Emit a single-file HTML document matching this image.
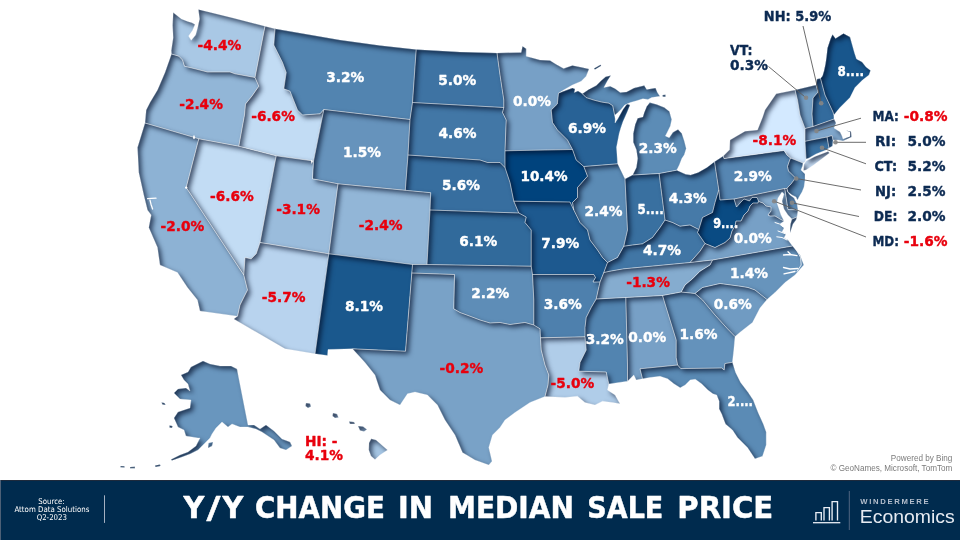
<!DOCTYPE html>
<html lang="en">
<head>
<meta charset="utf-8">
<title>Y/Y Change in Median Sale Price</title>
<style>
html,body{margin:0;padding:0;background:#fff;}
body{width:960px;height:540px;overflow:hidden;position:relative;font-family:"DejaVu Sans","Liberation Sans",sans-serif;}
svg{position:absolute;left:0;top:0;display:block;}
.st{stroke:#fff;stroke-width:.6;stroke-opacity:.5;stroke-linejoin:round;}
.lab text{stroke-width:.4px;stroke-linejoin:round;paint-order:stroke;font-family:"DejaVu Sans","Liberation Sans",sans-serif;font-weight:bold;font-size:14.4px;}
.side text{stroke:#0c2a52;stroke-width:.4px;stroke-linejoin:round;paint-order:stroke;font-family:"DejaVu Sans","Liberation Sans",sans-serif;font-weight:bold;font-size:14.4px;}
.lead line{stroke:#5c5c5c;stroke-width:1;stroke-opacity:.9;}
.lead circle{fill:#858585;fill-opacity:.92;}
.src text{font-family:"DejaVu Sans Condensed","DejaVu Sans","Liberation Sans",sans-serif;font-size:7.9px;}
.ttl{stroke:#fff;stroke-width:.5px;stroke-linejoin:round;paint-order:stroke;font-family:"DejaVu Sans","Liberation Sans",sans-serif;font-weight:bold;font-size:30.8px;}
.wm{font-family:"Liberation Sans",sans-serif;font-size:7.7px;font-weight:bold;}
.eco{font-family:"Liberation Sans",sans-serif;font-size:18.7px;}
.bing text{font-family:"Liberation Sans",sans-serif;font-size:8.15px;}
</style>
</head>
<body>
<svg width="960" height="480" viewBox="0 0 960 480">
<defs>
<filter id="is" filterUnits="userSpaceOnUse" x="0" y="0" width="960" height="480" color-interpolation-filters="sRGB">
<feComponentTransfer in="SourceAlpha" result="inv"><feFuncA type="table" tableValues="1 0"/></feComponentTransfer>
<feGaussianBlur in="inv" stdDeviation="2.8" result="blur"/>
<feOffset in="blur" dx="3" dy="3" result="off"/>
<feFlood flood-color="#000c26" flood-opacity="0.68" result="col"/>
<feComposite in="col" in2="off" operator="in" result="sh"/>
<feComposite in="sh" in2="SourceAlpha" operator="in" result="ish"/>
<feMerge><feMergeNode in="SourceGraphic"/><feMergeNode in="ish"/></feMerge>
</filter>
</defs>
<g class="map">
<path d="M173.2,12.6L172.6,25.2L173.2,37.8L171.3,50.4L171.5,54L178.8,56.2L182.5,60L184.5,66.2L195,68.8L207.5,72L230,72L235,73.8L255,77.5L265,26.2L232,17.7L198.4,9.4L199.6,19L197.8,27L195.6,35L191.2,40.3L188.6,36L192.5,30.5L195,24.5L192,22.8L187.7,21.4L181.4,18.9Z" fill="#a9c8e5" filter="url(#is)"/>
<path d="M171.5,54L165,72.5L157.5,90L150,102.5L146.2,110L145,123L198.8,138.8L238.8,146.2L244.5,115L245.5,104L252,96L258.8,86.2L255,77.5L235,73.8L230,72L207.5,72L195,68.8L184.5,66.2L182.5,60L178.8,56.2Z" fill="#92b6d7" filter="url(#is)"/>
<path d="M145,123L137.5,147.5L138.8,172.5L143.8,195L147.5,210L151.2,215L148.8,227.5L157.5,247.5L160,265L177.5,272.5L187.5,287.5L197.5,300L200,311L237.5,316.2L240,305L247.5,290L243.8,275L186.2,187.5L198.8,138.8Z" fill="#8db2d4" filter="url(#is)"/>
<path d="M238.8,146.2L198.8,138.8L186.2,187.5L243.8,275L245,257.5L251.2,258.8L256.2,253.8L260,242.5L276.2,155.8Z" fill="#c2dcf4" filter="url(#is)"/>
<path d="M265,26.2L275,28.8L273.8,45L282.5,62.5L286.2,72.5L283.8,88.8L290,91.2L297.5,110L302.5,115L320,113.8L323.8,109.5L313.5,161L276.2,155.8L238.8,146.2L244.5,115L245.5,104L252,96L258.8,86.2L255,77.5Z" fill="#c2dcf4" filter="url(#is)"/>
<path d="M275,28.8L340,40L380,45.5L416.2,49.5L412.5,102.5L410,119.5L323.8,109.5L320,113.8L302.5,115L297.5,110L290,91.2L283.8,88.8L286.2,72.5L282.5,62.5L273.8,45Z" fill="#5284b0" filter="url(#is)"/>
<path d="M323.8,109.5L410,119.5L408,155L405.3,190.3L338,183.8L312.5,178.8L313.5,161Z" fill="#6693bc" filter="url(#is)"/>
<path d="M276.2,155.8L313.5,161L312.5,178.8L338,183.8L328.8,253.8L260,242.5Z" fill="#9abcdc" filter="url(#is)"/>
<path d="M260,242.5L328.8,253.8L315,353.8L285,348.8L233.8,319L237.5,316.2L240,305L247.5,290L243.8,275L245,257.5L251.2,258.8L256.2,253.8Z" fill="#b8d3ee" filter="url(#is)"/>
<path d="M338,183.8L405.3,190.3L430.7,192.7L430,210L427,264.5L412.5,264.5L328.8,253.8Z" fill="#92b6d7" filter="url(#is)"/>
<path d="M328.8,253.8L412.5,264.5L411.8,273L405.5,351.2L352.5,348.8L328,349.5L327.5,355.5L315,353.8Z" fill="#1a588d" filter="url(#is)"/>
<path d="M416.2,49.5L460,52L497,53L500,75L503.8,100L503.8,107.5L412.5,102.5Z" fill="#3e73a3" filter="url(#is)"/>
<path d="M412.5,102.5L503.8,107.5L502.5,112.5L506.2,120L505,150.8L505,167.5L500,162.5L487.5,162.5L480,160L408,155L410,119.5Z" fill="#4277a6" filter="url(#is)"/>
<path d="M408,155L480,160L487.5,162.5L500,162.5L505,167.5L510,182.5L513.8,201.2L518.8,213L430,210L430.7,192.7L405.3,190.3Z" fill="#376e9f" filter="url(#is)"/>
<path d="M430,210L518.8,213L526.2,217L525,222.5L531.2,230L531.2,266.2L427,264.5Z" fill="#316a9b" filter="url(#is)"/>
<path d="M427,264.5L531.2,266.2L532.5,274.5L533.8,300L533.8,325L525,322.5L510,324.5L500,322.5L490,323L480,320L470,316.2L460,312.5L453.8,308.8L454.5,274.5L411.8,273L412.5,264.5Z" fill="#5e8db7" filter="url(#is)"/>
<path d="M411.8,273L454.5,274.5L453.8,308.8L460,312.5L470,316.2L480,320L490,323L500,322.5L510,324.5L525,322.5L533.8,325L540,328.8L540.5,337.8L541.2,350L545,365L548.8,375L548,385L545,396.5L530,402.5L515,412.5L505,420L500,427.5L492.5,435L488.8,447.5L492,461.2L488.8,465L475,460L462.5,452.5L455,435L445,420L437.5,405L427.5,395L415,392L407.5,393.8L400,405L390,400L380,390L375,375L365,362.5L352.5,348.8L405.5,351.2Z" fill="#79a2c7" filter="url(#is)"/>
<path d="M497,53L521.2,52.5L522.5,46.2L526.2,48.8L526.2,56.2L540,60L550,60.5L556,64.2L563.6,68.6L572.4,65.4L581.2,67.3L589,69L586.2,76.2L581.2,81.2L572.4,85L563.6,90L558.5,93.2L557.3,104L551.2,110L552.5,122.5L557.5,130L567.5,140L572.5,149.5L505,150.8L506.2,120L502.5,112.5L503.8,107.5L503.8,100L500,75Z" fill="#77a0c6" filter="url(#is)"/>
<path d="M505,150.8L572.5,149.5L576.2,160L583.8,166.5L587.5,176.2L577.5,187.5L577.5,197.5L572.5,202.5L573.8,210L570,202L513.8,201.2L510,182.5L505,167.5Z" fill="#00437d" filter="url(#is)"/>
<path d="M513.8,201.2L570,202L573.8,210L580,222.5L587.5,230L590,240L597.5,250L602.5,257.5L607.5,262.5L603.8,272.5L600,282L593,282L595.5,277.5L593.8,274.5L532.5,274.5L531.2,266.2L531.2,230L525,222.5L526.2,217L518.8,213Z" fill="#1d598f" filter="url(#is)"/>
<path d="M532.5,274.5L593.8,274.5L595.5,277.5L593,282L600,282L596.2,299L591.2,307.5L586.2,317.5L585,327.5L585,336.8L540.5,337.8L540,328.8L533.8,325L533.8,300Z" fill="#4e80ad" filter="url(#is)"/>
<path d="M540.5,337.8L585,336.8L586.2,350L580,362.5L578.8,371.2L606.2,372L608.8,384L607.5,390L615,395L620,403.8L612.5,402.5L602.5,401.2L595,405L585,402.5L577.5,396.2L565,397.5L545,396.5L548,385L548.8,375L545,365L541.2,350Z" fill="#b0cde9" filter="url(#is)"/>
<path d="M596.2,299L625.8,297.5L627.5,365L627.5,381.2L608.8,384L606.2,372L578.8,371.2L580,362.5L586.2,350L585,336.8L585,327.5L586.2,317.5L591.2,307.5Z" fill="#5284b0" filter="url(#is)"/>
<path d="M625.8,297.5L662.5,295.5L676.2,340L676.2,357.5L677.6,365L640,368.8L642.5,378.8L636.2,380L633.8,375L627.5,381.2L627.5,365Z" fill="#77a0c6" filter="url(#is)"/>
<path d="M662.5,295.5L681.2,292L695,293.5L702.5,300L715,315L727.5,328.8L735,336.5L733.8,350L732.4,362.3L724.9,363.6L724.2,369.9L721.7,368L680.8,368.6L677.6,365L676.2,357.5L676.2,340Z" fill="#6492bb" filter="url(#is)"/>
<path d="M732.4,362.3L735.6,372.4L740.6,382.4L748.2,392.5L753.2,400.1L758.2,412.7L763.3,424L766.2,432L766.2,445L762.5,456.2L755,458.8L747.5,447.5L737.5,437.5L732.5,430L725.5,424L721.7,413.9L719.2,408.9L719.2,401.3L716.7,395L712.9,393.8L707.9,390L701.6,383.7L695.3,379.3L690.2,379.9L685.2,385L680.2,387.8L673.9,383.7L667.6,378.7L660,376.3L650,377.5L642.5,378.8L640,368.8L677.6,365L680.8,368.6L721.7,368L724.2,369.9L724.9,363.6Z" fill="#5b8bb5" filter="url(#is)"/>
<path d="M695,293.5L702.5,287.5L720,283.5L740,286.2L748,287.5L755,290L767,299.5L760,308L752.5,322.5L741,331.5L735,336.5L727.5,328.8L715,315L702.5,300Z" fill="#709bc2" filter="url(#is)"/>
<path d="M712.5,260L792.5,246L800,255L803.8,265L795,275L785,282.5L775,292.5L767,299.5L755,290L748,287.5L740,286.2L720,283.5L702.5,287.5L695,293.5L681.2,292L685,285L692.5,278.8L700,271.2L710,265Z" fill="#6794bc" filter="url(#is)"/>
<path d="M603.8,272.5L610,271.2L623.8,268.8L690,262.5L712.5,260L710,265L700,271.2L692.5,278.8L685,285L681.2,292L662.5,295.5L625.8,297.5L596.2,299L600,282Z" fill="#85accf" filter="url(#is)"/>
<path d="M607.5,262.5L617.5,257.5L623.8,246.2L632.5,245L642.5,243.8L652.5,237.5L660,227.5L665,220L672.5,222.5L680,226.2L690,225L698.8,229.5L697.5,232.5L705,243.5L700,251.2L690,262.5L623.8,268.8L610,271.2L603.8,272.5Z" fill="#4176a5" filter="url(#is)"/>
<path d="M583.8,166.5L617.6,163.8L621.3,171.2L625,179L627.5,230L623.8,246.2L617.5,257.5L607.5,262.5L602.5,257.5L597.5,250L590,240L587.5,230L580,222.5L573.8,210L572.5,202.5L577.5,197.5L577.5,187.5L587.5,176.2Z" fill="#5b8bb5" filter="url(#is)"/>
<path d="M625,179L632.7,175L659.1,173.5L665,220L660,227.5L652.5,237.5L642.5,243.8L632.5,245L623.8,246.2L627.5,230Z" fill="#3970a0" filter="url(#is)"/>
<path d="M659.1,173.5L676.7,170.2L685.6,174.3L690.6,175L698.2,172.5L707,167.4L714.5,161.7L718.8,190L715,202.5L712.5,212.5L702.5,217.5L698.8,229.5L690,225L680,226.2L672.5,222.5L665,220Z" fill="#467aa8" filter="url(#is)"/>
<path d="M632.7,175L636.4,167.4L637.7,158.6L636.4,149.8L633.3,142.2L633.3,133.4L635.2,124.6L637.7,118.3L642.9,117L644.2,112.7L646.7,106.4L649.8,102.6L656.8,104.5L664.3,107.6L669.4,111.4L671.7,119.6L670.4,125.9L667.3,132.2L665.4,135.9L669.2,137.8L673,132.2L678,129.6L681.8,133.4L684.3,141L686.2,148.5L684.3,154.8L681.8,158.6L679.3,164.9L676.7,170.2L659.1,173.5ZM582.4,93.8L588.7,89.4L596.3,85.6L601.3,80.6L605.7,76.8L610.8,75.5L607.6,80.6L603.9,87.5L610.2,86.2L615.2,88.7L620.2,92.5L626.5,91.9L634.1,88.1L644.2,85.6L646.7,89.4L655.5,88.1L657.4,92.5L659.9,96.3L651.7,97.6L648,99.4L642.9,98.8L636.6,100.7L630.3,102.6L624.6,105.1L621.5,108.9L617.7,112.7L614.6,115.2L613.9,111.4L612.7,105.7L608.9,103.2L601.3,102L593.8,100.1L586.2,97.6ZM594,68.5L600.5,64.8L601.2,65.8L595,69.6ZM662.5,95L665.5,94.8L665.5,96.8L662.8,96.8Z" fill="#5c8cb6" filter="url(#is)"/>
<path d="M558.5,93.2L563.6,91.3L572.4,88.1L575,89L574.3,92.5L578,91L582.4,93.8L586.2,97.6L593.8,100.1L601.3,102L608.9,103.2L612.7,105.7L613.9,111.4L614.6,115.2L615.2,119L615,123L618,118.5L623,109.5L627,104L630,105L627,112.5L623,121.5L620.8,128L619.2,133.4L616.5,147.3L617.6,163.8L583.8,166.5L576.2,160L572.5,149.5L567.5,140L557.5,130L552.5,122.5L551.2,110L557.3,104Z" fill="#286296" filter="url(#is)"/>
<path d="M714.5,161.7L723.3,156.1L724,158.6L784,150.5L787,155L790.5,158L789,162L787.5,166.5L788.5,171L792,174.5L795,177.5L794,180L791,184L788,187L787,188.5L784.5,188.5L734,199L720,200L718.8,190Z" fill="#5686b2" filter="url(#is)"/>
<path d="M723.3,156.1L729.6,149.8L730,140L745,131.2L757.5,130L762.5,117.5L765,110L776.2,93.8L795,90L797.5,100L800,115L805,128.5L805,141.3L806,159L805,162L803,163L790.5,158L787,155L784,150.5L724,158.6ZM804,164.5L806,161L815,156.5L828,151.5L829.5,153L821,159.5L813,165.5L806,170L803.5,170.5Z" fill="#d3e9ff" filter="url(#is)"/>
<path d="M795,90L816,85L818,92L813,98L812,114L813,126.5L805,128.5L800,115L797.5,100Z" fill="#739ec4" filter="url(#is)"/>
<path d="M816,85L817,79L820.5,78.5L825,95L833,112L833.8,115L834,119L813,126.5L812,114L813,98L818,92Z" fill="#336b9d" filter="url(#is)"/>
<path d="M820.5,78.5L822.5,76L824,71L825.5,64L826.5,57L827.5,48L830.5,39L832.5,34.5L835.5,38.5L843.5,33.5L850,37L852,44L854.5,53L856.5,59L862,62L866,67L870.5,70.5L869,75L862.5,80L855,87.5L850,97.5L840,107.5L833.8,115L833,112L825,95Z" fill="#18568c" filter="url(#is)"/>
<path d="M834,119L836,123L834,128L840,132L842,136L843,139L850,136.5L850,132L846,130.5L851,131.5L851.5,137L843,141L838,140L833,140L832,135.5L827,137L805,141.3L805,128.5L813,126.5Z" fill="#80a7cc" filter="url(#is)"/>
<path d="M827,137L829,148L826,150L816,154L809,158L806,159L805,141.3Z" fill="#3b72a2" filter="url(#is)"/>
<path d="M833,140L832.5,146L829,148L827,137L832,135.5Z" fill="#3e73a3" filter="url(#is)"/>
<path d="M803,163L802.5,166L801,170L805,174L805,180L804,187L802,192L799,197L797.5,200L796,197L792,195L788,192L787,188.5L788,187L791,184L794,180L795,177.5L792,174.5L788.5,171L787.5,166.5L789,162L790.5,158Z" fill="#5a8ab5" filter="url(#is)"/>
<path d="M784.5,188.5L785,190L788,209.5L798,210L797,204L794,198L790,195L787,191L787,188.5Z" fill="#608eb8" filter="url(#is)"/>
<path d="M734,199L784.5,188.5L785,190L788,209.5L798,210L797,217L792,219L788,215L784,209L782,201L784,194L782,192L778,198L777,203L779,209L781,215L784,221L780,219L775,216L770,216L768,215L771,211L771,207L766,206L763,203L760,202L758.5,201L757,197.5L752,197.5L749.5,201L744,199L741,202L736.5,207Z" fill="#89afd1" filter="url(#is)"/>
<path d="M758.5,201L758,203L753,203L750,206L748,211L744,215L741,221L736,221L735,226L732,231L730,238L725,242.5L715,247.5L705,243.5L697.5,232.5L698.8,229.5L702.5,217.5L712.5,212.5L715,202.5L718.8,190L720,200L734,199L736.5,207L741,202L744,199L749.5,201L752,197.5L757,197.5Z" fill="#0a4b83" filter="url(#is)"/>
<path d="M758.5,201L760,202L763,203L766,206L771,207L771,211L768,215L770,216L775,216L780,219L784,221L780,224L784,228L782,232L786,234L784,238L788,240L792.5,246L712.5,260L690,262.5L700,251.2L705,243.5L715,247.5L725,242.5L730,238L732,231L735,226L736,221L741,221L744,215L748,211L750,206L753,203L758,203ZM797,217L796,220L793,224L791,230L790.5,233L790,230L790.5,224L792,219Z" fill="#77a0c6" filter="url(#is)"/>
<path d="M181,375L188,372L191,367L197,364L203,361L210,364L220,366L231,366L237,369L248,425L254,425L260,429L266,425L274,431L282,439L290,442L292,446L286,450L280,448L274,440L268,436L262,432L256,429L248,427L240,427L232,424L228,427L222,422L216,428L212,434L210,438L204,444L198,450L190,454L182,457L172,460.5L171,459.5L180,455L188,452L196,446L200,438L198,438L186,436L184,430L178,427L174,418L178,412L190,408L191,400L180,399L174,393L178,389L186,388L190,391L188,384L184,380ZM161.5,402.5L164.5,403L165.5,405L162.5,404.5ZM169.5,425.5L172.5,426L172,428L169.5,427.5ZM208.5,443L213,442L212,446L208,448ZM155,465.5L160,464.5L160.5,466L155.5,467ZM130,467L135,466.8L135,468.2L130,468.3ZM120.5,466L124.5,466.2L124.5,467.5L120.5,467.3Z" fill="#6996be" filter="url(#is)"/>
<path d="M371.2,438.8L376,440L387.5,450L380,455L375,459.5L371,456L368.8,450L369,443ZM358,426L363,426.5L367,429.5L364,431.5L360,430.5ZM349,421.5L354,422L355,424L350,424ZM333,413L337,414L338.5,417.5L335,418L332.5,416ZM306,403L310,403.5L311,406.5L308,408L305.5,406Z" fill="#a5c5e3" filter="url(#is)"/>
<path class="st" fill="none" d="M173.2,12.6L172.6,25.2L173.2,37.8L171.3,50.4L171.5,54L178.8,56.2L182.5,60L184.5,66.2L195,68.8L207.5,72L230,72L235,73.8L255,77.5L265,26.2L232,17.7L198.4,9.4L199.6,19L197.8,27L195.6,35L191.2,40.3L188.6,36L192.5,30.5L195,24.5L192,22.8L187.7,21.4L181.4,18.9ZM171.5,54L165,72.5L157.5,90L150,102.5L146.2,110L145,123L198.8,138.8L238.8,146.2L244.5,115L245.5,104L252,96L258.8,86.2L255,77.5L235,73.8L230,72L207.5,72L195,68.8L184.5,66.2L182.5,60L178.8,56.2ZM145,123L137.5,147.5L138.8,172.5L143.8,195L147.5,210L151.2,215L148.8,227.5L157.5,247.5L160,265L177.5,272.5L187.5,287.5L197.5,300L200,311L237.5,316.2L240,305L247.5,290L243.8,275L186.2,187.5L198.8,138.8ZM238.8,146.2L198.8,138.8L186.2,187.5L243.8,275L245,257.5L251.2,258.8L256.2,253.8L260,242.5L276.2,155.8ZM265,26.2L275,28.8L273.8,45L282.5,62.5L286.2,72.5L283.8,88.8L290,91.2L297.5,110L302.5,115L320,113.8L323.8,109.5L313.5,161L276.2,155.8L238.8,146.2L244.5,115L245.5,104L252,96L258.8,86.2L255,77.5ZM275,28.8L340,40L380,45.5L416.2,49.5L412.5,102.5L410,119.5L323.8,109.5L320,113.8L302.5,115L297.5,110L290,91.2L283.8,88.8L286.2,72.5L282.5,62.5L273.8,45ZM323.8,109.5L410,119.5L408,155L405.3,190.3L338,183.8L312.5,178.8L313.5,161ZM276.2,155.8L313.5,161L312.5,178.8L338,183.8L328.8,253.8L260,242.5ZM260,242.5L328.8,253.8L315,353.8L285,348.8L233.8,319L237.5,316.2L240,305L247.5,290L243.8,275L245,257.5L251.2,258.8L256.2,253.8ZM338,183.8L405.3,190.3L430.7,192.7L430,210L427,264.5L412.5,264.5L328.8,253.8ZM328.8,253.8L412.5,264.5L411.8,273L405.5,351.2L352.5,348.8L328,349.5L327.5,355.5L315,353.8ZM416.2,49.5L460,52L497,53L500,75L503.8,100L503.8,107.5L412.5,102.5ZM412.5,102.5L503.8,107.5L502.5,112.5L506.2,120L505,150.8L505,167.5L500,162.5L487.5,162.5L480,160L408,155L410,119.5ZM408,155L480,160L487.5,162.5L500,162.5L505,167.5L510,182.5L513.8,201.2L518.8,213L430,210L430.7,192.7L405.3,190.3ZM430,210L518.8,213L526.2,217L525,222.5L531.2,230L531.2,266.2L427,264.5ZM427,264.5L531.2,266.2L532.5,274.5L533.8,300L533.8,325L525,322.5L510,324.5L500,322.5L490,323L480,320L470,316.2L460,312.5L453.8,308.8L454.5,274.5L411.8,273L412.5,264.5ZM411.8,273L454.5,274.5L453.8,308.8L460,312.5L470,316.2L480,320L490,323L500,322.5L510,324.5L525,322.5L533.8,325L540,328.8L540.5,337.8L541.2,350L545,365L548.8,375L548,385L545,396.5L530,402.5L515,412.5L505,420L500,427.5L492.5,435L488.8,447.5L492,461.2L488.8,465L475,460L462.5,452.5L455,435L445,420L437.5,405L427.5,395L415,392L407.5,393.8L400,405L390,400L380,390L375,375L365,362.5L352.5,348.8L405.5,351.2ZM497,53L521.2,52.5L522.5,46.2L526.2,48.8L526.2,56.2L540,60L550,60.5L556,64.2L563.6,68.6L572.4,65.4L581.2,67.3L589,69L586.2,76.2L581.2,81.2L572.4,85L563.6,90L558.5,93.2L557.3,104L551.2,110L552.5,122.5L557.5,130L567.5,140L572.5,149.5L505,150.8L506.2,120L502.5,112.5L503.8,107.5L503.8,100L500,75ZM505,150.8L572.5,149.5L576.2,160L583.8,166.5L587.5,176.2L577.5,187.5L577.5,197.5L572.5,202.5L573.8,210L570,202L513.8,201.2L510,182.5L505,167.5ZM513.8,201.2L570,202L573.8,210L580,222.5L587.5,230L590,240L597.5,250L602.5,257.5L607.5,262.5L603.8,272.5L600,282L593,282L595.5,277.5L593.8,274.5L532.5,274.5L531.2,266.2L531.2,230L525,222.5L526.2,217L518.8,213ZM532.5,274.5L593.8,274.5L595.5,277.5L593,282L600,282L596.2,299L591.2,307.5L586.2,317.5L585,327.5L585,336.8L540.5,337.8L540,328.8L533.8,325L533.8,300ZM540.5,337.8L585,336.8L586.2,350L580,362.5L578.8,371.2L606.2,372L608.8,384L607.5,390L615,395L620,403.8L612.5,402.5L602.5,401.2L595,405L585,402.5L577.5,396.2L565,397.5L545,396.5L548,385L548.8,375L545,365L541.2,350ZM596.2,299L625.8,297.5L627.5,365L627.5,381.2L608.8,384L606.2,372L578.8,371.2L580,362.5L586.2,350L585,336.8L585,327.5L586.2,317.5L591.2,307.5ZM625.8,297.5L662.5,295.5L676.2,340L676.2,357.5L677.6,365L640,368.8L642.5,378.8L636.2,380L633.8,375L627.5,381.2L627.5,365ZM662.5,295.5L681.2,292L695,293.5L702.5,300L715,315L727.5,328.8L735,336.5L733.8,350L732.4,362.3L724.9,363.6L724.2,369.9L721.7,368L680.8,368.6L677.6,365L676.2,357.5L676.2,340ZM732.4,362.3L735.6,372.4L740.6,382.4L748.2,392.5L753.2,400.1L758.2,412.7L763.3,424L766.2,432L766.2,445L762.5,456.2L755,458.8L747.5,447.5L737.5,437.5L732.5,430L725.5,424L721.7,413.9L719.2,408.9L719.2,401.3L716.7,395L712.9,393.8L707.9,390L701.6,383.7L695.3,379.3L690.2,379.9L685.2,385L680.2,387.8L673.9,383.7L667.6,378.7L660,376.3L650,377.5L642.5,378.8L640,368.8L677.6,365L680.8,368.6L721.7,368L724.2,369.9L724.9,363.6ZM695,293.5L702.5,287.5L720,283.5L740,286.2L748,287.5L755,290L767,299.5L760,308L752.5,322.5L741,331.5L735,336.5L727.5,328.8L715,315L702.5,300ZM712.5,260L792.5,246L800,255L803.8,265L795,275L785,282.5L775,292.5L767,299.5L755,290L748,287.5L740,286.2L720,283.5L702.5,287.5L695,293.5L681.2,292L685,285L692.5,278.8L700,271.2L710,265ZM603.8,272.5L610,271.2L623.8,268.8L690,262.5L712.5,260L710,265L700,271.2L692.5,278.8L685,285L681.2,292L662.5,295.5L625.8,297.5L596.2,299L600,282ZM607.5,262.5L617.5,257.5L623.8,246.2L632.5,245L642.5,243.8L652.5,237.5L660,227.5L665,220L672.5,222.5L680,226.2L690,225L698.8,229.5L697.5,232.5L705,243.5L700,251.2L690,262.5L623.8,268.8L610,271.2L603.8,272.5ZM583.8,166.5L617.6,163.8L621.3,171.2L625,179L627.5,230L623.8,246.2L617.5,257.5L607.5,262.5L602.5,257.5L597.5,250L590,240L587.5,230L580,222.5L573.8,210L572.5,202.5L577.5,197.5L577.5,187.5L587.5,176.2ZM625,179L632.7,175L659.1,173.5L665,220L660,227.5L652.5,237.5L642.5,243.8L632.5,245L623.8,246.2L627.5,230ZM659.1,173.5L676.7,170.2L685.6,174.3L690.6,175L698.2,172.5L707,167.4L714.5,161.7L718.8,190L715,202.5L712.5,212.5L702.5,217.5L698.8,229.5L690,225L680,226.2L672.5,222.5L665,220ZM632.7,175L636.4,167.4L637.7,158.6L636.4,149.8L633.3,142.2L633.3,133.4L635.2,124.6L637.7,118.3L642.9,117L644.2,112.7L646.7,106.4L649.8,102.6L656.8,104.5L664.3,107.6L669.4,111.4L671.7,119.6L670.4,125.9L667.3,132.2L665.4,135.9L669.2,137.8L673,132.2L678,129.6L681.8,133.4L684.3,141L686.2,148.5L684.3,154.8L681.8,158.6L679.3,164.9L676.7,170.2L659.1,173.5ZM582.4,93.8L588.7,89.4L596.3,85.6L601.3,80.6L605.7,76.8L610.8,75.5L607.6,80.6L603.9,87.5L610.2,86.2L615.2,88.7L620.2,92.5L626.5,91.9L634.1,88.1L644.2,85.6L646.7,89.4L655.5,88.1L657.4,92.5L659.9,96.3L651.7,97.6L648,99.4L642.9,98.8L636.6,100.7L630.3,102.6L624.6,105.1L621.5,108.9L617.7,112.7L614.6,115.2L613.9,111.4L612.7,105.7L608.9,103.2L601.3,102L593.8,100.1L586.2,97.6ZM594,68.5L600.5,64.8L601.2,65.8L595,69.6ZM662.5,95L665.5,94.8L665.5,96.8L662.8,96.8ZM558.5,93.2L563.6,91.3L572.4,88.1L575,89L574.3,92.5L578,91L582.4,93.8L586.2,97.6L593.8,100.1L601.3,102L608.9,103.2L612.7,105.7L613.9,111.4L614.6,115.2L615.2,119L615,123L618,118.5L623,109.5L627,104L630,105L627,112.5L623,121.5L620.8,128L619.2,133.4L616.5,147.3L617.6,163.8L583.8,166.5L576.2,160L572.5,149.5L567.5,140L557.5,130L552.5,122.5L551.2,110L557.3,104ZM714.5,161.7L723.3,156.1L724,158.6L784,150.5L787,155L790.5,158L789,162L787.5,166.5L788.5,171L792,174.5L795,177.5L794,180L791,184L788,187L787,188.5L784.5,188.5L734,199L720,200L718.8,190ZM723.3,156.1L729.6,149.8L730,140L745,131.2L757.5,130L762.5,117.5L765,110L776.2,93.8L795,90L797.5,100L800,115L805,128.5L805,141.3L806,159L805,162L803,163L790.5,158L787,155L784,150.5L724,158.6ZM804,164.5L806,161L815,156.5L828,151.5L829.5,153L821,159.5L813,165.5L806,170L803.5,170.5ZM795,90L816,85L818,92L813,98L812,114L813,126.5L805,128.5L800,115L797.5,100ZM816,85L817,79L820.5,78.5L825,95L833,112L833.8,115L834,119L813,126.5L812,114L813,98L818,92ZM820.5,78.5L822.5,76L824,71L825.5,64L826.5,57L827.5,48L830.5,39L832.5,34.5L835.5,38.5L843.5,33.5L850,37L852,44L854.5,53L856.5,59L862,62L866,67L870.5,70.5L869,75L862.5,80L855,87.5L850,97.5L840,107.5L833.8,115L833,112L825,95ZM834,119L836,123L834,128L840,132L842,136L843,139L850,136.5L850,132L846,130.5L851,131.5L851.5,137L843,141L838,140L833,140L832,135.5L827,137L805,141.3L805,128.5L813,126.5ZM827,137L829,148L826,150L816,154L809,158L806,159L805,141.3ZM833,140L832.5,146L829,148L827,137L832,135.5ZM803,163L802.5,166L801,170L805,174L805,180L804,187L802,192L799,197L797.5,200L796,197L792,195L788,192L787,188.5L788,187L791,184L794,180L795,177.5L792,174.5L788.5,171L787.5,166.5L789,162L790.5,158ZM784.5,188.5L785,190L788,209.5L798,210L797,204L794,198L790,195L787,191L787,188.5ZM734,199L784.5,188.5L785,190L788,209.5L798,210L797,217L792,219L788,215L784,209L782,201L784,194L782,192L778,198L777,203L779,209L781,215L784,221L780,219L775,216L770,216L768,215L771,211L771,207L766,206L763,203L760,202L758.5,201L757,197.5L752,197.5L749.5,201L744,199L741,202L736.5,207ZM758.5,201L758,203L753,203L750,206L748,211L744,215L741,221L736,221L735,226L732,231L730,238L725,242.5L715,247.5L705,243.5L697.5,232.5L698.8,229.5L702.5,217.5L712.5,212.5L715,202.5L718.8,190L720,200L734,199L736.5,207L741,202L744,199L749.5,201L752,197.5L757,197.5ZM758.5,201L760,202L763,203L766,206L771,207L771,211L768,215L770,216L775,216L780,219L784,221L780,224L784,228L782,232L786,234L784,238L788,240L792.5,246L712.5,260L690,262.5L700,251.2L705,243.5L715,247.5L725,242.5L730,238L732,231L735,226L736,221L741,221L744,215L748,211L750,206L753,203L758,203ZM797,217L796,220L793,224L791,230L790.5,233L790,230L790.5,224L792,219ZM181,375L188,372L191,367L197,364L203,361L210,364L220,366L231,366L237,369L248,425L254,425L260,429L266,425L274,431L282,439L290,442L292,446L286,450L280,448L274,440L268,436L262,432L256,429L248,427L240,427L232,424L228,427L222,422L216,428L212,434L210,438L204,444L198,450L190,454L182,457L172,460.5L171,459.5L180,455L188,452L196,446L200,438L198,438L186,436L184,430L178,427L174,418L178,412L190,408L191,400L180,399L174,393L178,389L186,388L190,391L188,384L184,380ZM161.5,402.5L164.5,403L165.5,405L162.5,404.5ZM169.5,425.5L172.5,426L172,428L169.5,427.5ZM208.5,443L213,442L212,446L208,448ZM155,465.5L160,464.5L160.5,466L155.5,467ZM130,467L135,466.8L135,468.2L130,468.3ZM120.5,466L124.5,466.2L124.5,467.5L120.5,467.3ZM371.2,438.8L376,440L387.5,450L380,455L375,459.5L371,456L368.8,450L369,443ZM358,426L363,426.5L367,429.5L364,431.5L360,430.5ZM349,421.5L354,422L355,424L350,424ZM333,413L337,414L338.5,417.5L335,418L332.5,416ZM306,403L310,403.5L311,406.5L308,408L305.5,406Z"/>
</g>
<g class="water" fill="none" stroke="#fff" stroke-linecap="round" stroke-linejoin="round">
<path stroke-width="1.3" d="M147.6,198.6L156,198.2M150,200.2L151,204.2L152.6,209"/>
<path stroke-width="1" d="M775,222.5L779.5,224L783,226.8M778,231L786,234M776.8,236.8L782,237.5L787,240"/>
<path stroke-width="1.3" d="M783.5,255L790,254.5L797,255.6M788,251.8L791,254.8M783.5,267.5L790,269L798,268.5M784,273.8L795,271.5"/>
<path stroke-width=".8" d="M796,249L800.6,257.5L801.2,265L797,271.5"/>
<circle cx="186.2" cy="187.6" r="1.2" fill="#fff" stroke="none"/>
<ellipse cx="194" cy="137.2" rx=".9" ry="2" fill="#fff" stroke="none"/>
<path d="M310.8,159.8L313,161.2L311.6,164Z" fill="#fff" stroke="none"/>
</g>
<g class="lead">
<line x1="803" y1="26" x2="821.2" y2="103.2"/><circle cx="821.2" cy="103.2" r="2.3"/>
<line x1="768.5" y1="66.5" x2="806" y2="97.8"/><circle cx="806" cy="97.8" r="2.3"/>
<line x1="861" y1="118.2" x2="816.5" y2="131"/><circle cx="816.5" cy="131" r="2.3"/>
<line x1="866" y1="142.3" x2="835.5" y2="142.3"/><circle cx="835.5" cy="142.3" r="2.3"/>
<line x1="866" y1="163.8" x2="822" y2="147.8"/><circle cx="822" cy="147.8" r="2.3"/>
<line x1="861" y1="190" x2="796.2" y2="178.5"/><circle cx="796.2" cy="178.5" r="2.3"/>
<line x1="859" y1="216.5" x2="792" y2="202.8"/><circle cx="792" cy="202.8" r="2.3"/>
<line x1="866" y1="237" x2="774.2" y2="201.2"/><circle cx="774.2" cy="201.2" r="2.3"/>
</g>
<g class="lab">
<text x="197.5" y="49.5" fill="#e8000d" stroke="#e8000d" textLength="43.7" lengthAdjust="spacingAndGlyphs">-4.4%</text>
<text x="179.2" y="109.2" fill="#e8000d" stroke="#e8000d" textLength="43.7" lengthAdjust="spacingAndGlyphs">-2.4%</text>
<text x="251.2" y="121.2" fill="#e8000d" stroke="#e8000d" textLength="43.7" lengthAdjust="spacingAndGlyphs">-6.6%</text>
<text x="326.2" y="82" fill="#fff" stroke="#fff" textLength="38" lengthAdjust="spacingAndGlyphs">3.2%</text>
<text x="438.2" y="85" fill="#fff" stroke="#fff" textLength="38" lengthAdjust="spacingAndGlyphs">5.0%</text>
<text x="513" y="106.2" fill="#fff" stroke="#fff" textLength="38" lengthAdjust="spacingAndGlyphs">0.0%</text>
<text x="568" y="133" fill="#fff" stroke="#fff" textLength="38" lengthAdjust="spacingAndGlyphs">6.9%</text>
<text x="638.8" y="152.5" fill="#fff" stroke="#fff" textLength="38" lengthAdjust="spacingAndGlyphs">2.3%</text>
<text x="343" y="157.3" fill="#fff" stroke="#fff" textLength="38" lengthAdjust="spacingAndGlyphs">1.5%</text>
<text x="438.4" y="138" fill="#fff" stroke="#fff" textLength="38" lengthAdjust="spacingAndGlyphs">4.6%</text>
<text x="442" y="190" fill="#fff" stroke="#fff" textLength="38" lengthAdjust="spacingAndGlyphs">5.6%</text>
<text x="520.5" y="181.2" fill="#fff" stroke="#fff" textLength="47" lengthAdjust="spacingAndGlyphs">10.4%</text>
<text x="210" y="201.2" fill="#e8000d" stroke="#e8000d" textLength="43.7" lengthAdjust="spacingAndGlyphs">-6.6%</text>
<text x="276.2" y="213.8" fill="#e8000d" stroke="#e8000d" textLength="43.7" lengthAdjust="spacingAndGlyphs">-3.1%</text>
<text x="358.8" y="230" fill="#e8000d" stroke="#e8000d" textLength="43.7" lengthAdjust="spacingAndGlyphs">-2.4%</text>
<text x="459.2" y="246.2" fill="#fff" stroke="#fff" textLength="38" lengthAdjust="spacingAndGlyphs">6.1%</text>
<text x="541.2" y="247.8" fill="#fff" stroke="#fff" textLength="38" lengthAdjust="spacingAndGlyphs">7.9%</text>
<text x="584.5" y="215.5" fill="#fff" stroke="#fff" textLength="38" lengthAdjust="spacingAndGlyphs">2.4%</text>
<text x="637.5" y="214.2" fill="#fff" stroke="#fff" textLength="26.3" lengthAdjust="spacingAndGlyphs">5....</text>
<text x="668.8" y="202.5" fill="#fff" stroke="#fff" textLength="38" lengthAdjust="spacingAndGlyphs">4.3%</text>
<text x="733.8" y="180.5" fill="#fff" stroke="#fff" textLength="38" lengthAdjust="spacingAndGlyphs">2.9%</text>
<text x="752.5" y="144.5" fill="#e8000d" stroke="#e8000d" textLength="43.7" lengthAdjust="spacingAndGlyphs">-8.1%</text>
<text x="160.5" y="231.2" fill="#e8000d" stroke="#e8000d" textLength="43.7" lengthAdjust="spacingAndGlyphs">-2.0%</text>
<text x="261.8" y="302" fill="#e8000d" stroke="#e8000d" textLength="43.7" lengthAdjust="spacingAndGlyphs">-5.7%</text>
<text x="345" y="311" fill="#fff" stroke="#fff" textLength="38" lengthAdjust="spacingAndGlyphs">8.1%</text>
<text x="471.2" y="298" fill="#fff" stroke="#fff" textLength="38" lengthAdjust="spacingAndGlyphs">2.2%</text>
<text x="439.5" y="372.5" fill="#e8000d" stroke="#e8000d" textLength="43.7" lengthAdjust="spacingAndGlyphs">-0.2%</text>
<text x="543.8" y="309.3" fill="#fff" stroke="#fff" textLength="38" lengthAdjust="spacingAndGlyphs">3.6%</text>
<text x="550.5" y="387.5" fill="#e8000d" stroke="#e8000d" textLength="43.7" lengthAdjust="spacingAndGlyphs">-5.0%</text>
<text x="585.8" y="343.8" fill="#fff" stroke="#fff" textLength="38" lengthAdjust="spacingAndGlyphs">3.2%</text>
<text x="628.2" y="341.8" fill="#fff" stroke="#fff" textLength="38" lengthAdjust="spacingAndGlyphs">0.0%</text>
<text x="679.5" y="339.2" fill="#fff" stroke="#fff" textLength="38" lengthAdjust="spacingAndGlyphs">1.6%</text>
<text x="727.5" y="406.2" fill="#fff" stroke="#fff" textLength="25.5" lengthAdjust="spacingAndGlyphs">2....</text>
<text x="713.8" y="309.2" fill="#fff" stroke="#fff" textLength="38" lengthAdjust="spacingAndGlyphs">0.6%</text>
<text x="730" y="277.5" fill="#fff" stroke="#fff" textLength="38" lengthAdjust="spacingAndGlyphs">1.4%</text>
<text x="733.8" y="242.5" fill="#fff" stroke="#fff" textLength="38" lengthAdjust="spacingAndGlyphs">0.0%</text>
<text x="713.2" y="227.5" fill="#fff" stroke="#fff" textLength="25" lengthAdjust="spacingAndGlyphs">9....</text>
<text x="643" y="255" fill="#fff" stroke="#fff" textLength="38" lengthAdjust="spacingAndGlyphs">4.7%</text>
<text x="626.2" y="286.8" fill="#e8000d" stroke="#e8000d" textLength="43.7" lengthAdjust="spacingAndGlyphs">-1.3%</text>
<text x="837.5" y="75.7" fill="#fff" stroke="#fff" textLength="26.5" lengthAdjust="spacingAndGlyphs">8....</text>
</g>
<g class="side" fill="#0c2a52">
<text x="763.8" y="21.2" textLength="67.4" lengthAdjust="spacingAndGlyphs">NH: 5.9%</text>
<text x="730" y="55" textLength="22.5" lengthAdjust="spacingAndGlyphs">VT:</text>
<text x="730" y="70" textLength="38" lengthAdjust="spacingAndGlyphs">0.3%</text>
<text x="872.5" y="121.2" textLength="26.3" lengthAdjust="spacingAndGlyphs">MA:</text><text x="903.8" y="121.2" fill="#e8000d" stroke="#e8000d" style="stroke:#e8000d" textLength="43.7" lengthAdjust="spacingAndGlyphs">-0.8%</text>
<text x="875" y="146.2" textLength="21.2" lengthAdjust="spacingAndGlyphs">RI:</text><text x="907.5" y="146.2" textLength="38" lengthAdjust="spacingAndGlyphs">5.0%</text>
<text x="874.5" y="171.2" textLength="22.5" lengthAdjust="spacingAndGlyphs">CT:</text><text x="907.5" y="171.2" textLength="38" lengthAdjust="spacingAndGlyphs">5.2%</text>
<text x="875" y="196.2" textLength="21.2" lengthAdjust="spacingAndGlyphs">NJ:</text><text x="907.5" y="196.2" textLength="38" lengthAdjust="spacingAndGlyphs">2.5%</text>
<text x="873.8" y="221.2" textLength="23.7" lengthAdjust="spacingAndGlyphs">DE:</text><text x="907.5" y="221.2" textLength="38" lengthAdjust="spacingAndGlyphs">2.0%</text>
<text x="872.5" y="246.2" textLength="26.5" lengthAdjust="spacingAndGlyphs">MD:</text><text x="903.8" y="246.2" fill="#e8000d" style="stroke:#e8000d" textLength="43.7" lengthAdjust="spacingAndGlyphs">-1.6%</text>
<text x="305" y="445.5" fill="#e8000d" style="stroke:#e8000d" textLength="32.5" lengthAdjust="spacingAndGlyphs">HI: -</text>
<text x="305" y="460" fill="#e8000d" style="stroke:#e8000d" textLength="38" lengthAdjust="spacingAndGlyphs">4.1%</text>
</g>
</svg>
<svg style="left:0;top:440px" width="960" height="100" viewBox="0 440 960 100">
<g class="bing" fill="#7b7b7b" text-anchor="end">
<text x="952.3" y="461.3">Powered by Bing</text>
<text x="952.3" y="470.7">© GeoNames, Microsoft, TomTom</text>
</g>
<rect x="0" y="480" width="960" height="60" fill="#002b4e"/>
<rect x="0" y="480" width="960" height="1" fill="#1e2a3c"/>
<rect x="0" y="480" width="1" height="60" fill="#4d6076"/>
<g class="src" fill="#fff" text-anchor="middle">
<text x="51.5" y="504.1" textLength="26.3" lengthAdjust="spacingAndGlyphs">Source:</text>
<text x="51.9" y="512.2" textLength="75" lengthAdjust="spacingAndGlyphs">Attom Data Solutions</text>
<text x="51.8" y="520.4" textLength="30.3" lengthAdjust="spacingAndGlyphs">Q2-2023</text>
</g>
<rect x="104" y="495.3" width="1" height="27.6" fill="#a4b0c1"/>
<text class="ttl" y="518" fill="#fff"><tspan x="183.6" textLength="20.8" lengthAdjust="spacingAndGlyphs">Y</tspan><tspan x="206.5" textLength="14" lengthAdjust="spacingAndGlyphs">/</tspan><tspan x="222.6" textLength="20.8" lengthAdjust="spacingAndGlyphs">Y</tspan> <tspan x="255" textLength="130" lengthAdjust="spacingAndGlyphs">CHANGE</tspan> <tspan x="398" textLength="35" lengthAdjust="spacingAndGlyphs">IN</tspan> <tspan x="448" textLength="126" lengthAdjust="spacingAndGlyphs">MEDIAN</tspan> <tspan x="587.3" textLength="76" lengthAdjust="spacingAndGlyphs">SALE</tspan> <tspan x="677.3" textLength="96" lengthAdjust="spacingAndGlyphs">PRICE</tspan></text>
<g fill="none" stroke="#e9eef5" stroke-width="1.35">
<path d="M815.9,520.6V512.6H821.3V520.6"/>
<path d="M824,520.6V507.6H829.4V520.6"/>
<path d="M832.1,520.6V501.6H837.5V520.6"/>
<path d="M813,522.7H840.3" stroke-width="1.3"/>
</g>
<rect x="848.8" y="491" width="1" height="39" fill="#4f6580"/>
<text class="wm" x="860.3" y="504.4" fill="#b4bfcd" textLength="68.4" lengthAdjust="spacing">WINDERMERE</text>
<text class="eco" x="859.8" y="523.2" fill="#e6ebf2" textLength="95" lengthAdjust="spacingAndGlyphs">Economics</text>
</svg>
</body>
</html>
